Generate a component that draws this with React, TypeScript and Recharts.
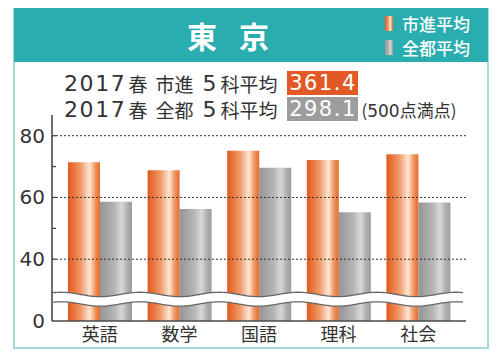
import { BarChart, Bar, XAxis, YAxis, ReferenceLine } from 'recharts';

// 東京 2017春 教科別平均点
const subjects = ['英語', '数学', '国語', '理科', '社会'];
const shishinAvg = [71.4, 68.8, 75.1, 72.1, 74.0];
const zentoAvg = [58.6, 56.3, 69.6, 55.2, 58.4];
const yTicks = [0, 40, 50, 60, 70, 80];
const yLabels = [0, 40, 60, 80];
const gridValues = [40, 60, 80];

// 縦軸は 0〜40 の間を省略（波線）
const BREAK_AT = 40;
const BREAK_GAP = 20;
const toView = (v: number) => (v >= BREAK_AT ? v - BREAK_GAP : v);
const fromView = (v: number) => (v >= BREAK_AT - BREAK_GAP ? v + BREAK_GAP : v);

const data = subjects.map((s, i) => ({
  subject: s,
  shishin: toView(shishinAvg[i]),
  zento: toView(zentoAvg[i]),
}));

// レイアウト
const W = 500;
const H = 360;
const M = { top: 115, right: 34, bottom: 9, left: 0 };
const Y_W = 52;
const X_H = 30;
const Y_MAX = 66.7;
const plotLeft = M.left + Y_W;
const plotRight = W - M.right;
const plotTop = M.top;
const plotBottom = H - M.bottom - X_H;
const yPx = (v: number) => plotBottom - ((plotBottom - plotTop) * v) / Y_MAX;

const CJK = '"Noto Sans CJK JP", sans-serif';
const NUM = '"DejaVu Sans", "Noto Sans CJK JP", sans-serif';
const TEXT = '#333';
const AXIS = '#4a4a4a';

function YTick(props: any) {
  const { x, y, payload } = props;
  const v = fromView(payload.value);
  return (
    <g>
      {v > 0 && <line x1={x + 7} x2={x + 11} y1={y} y2={y} stroke={AXIS} strokeWidth={1.3} />}
      {yLabels.includes(v) && (
        <text x={x} y={y} dy={7} textAnchor="end" fontSize={20} fill={TEXT} fontFamily={NUM}>
          {v}
        </text>
      )}
    </g>
  );
}

// 省略記号の波線（装飾）
function BreakBand() {
  const x = plotLeft + 1;
  const width = plotRight - 2 - x;
  const y = yPx(9.5);
  const height = yPx(4.6) - y;
  const amp = 2.2;
  const period = 79;
  const phase = 8;
  const topC = y + amp + 0.6;
  const botC = y + height - amp - 0.6;
  const pts: number[] = [];
  for (let p = 0; p <= width; p += 2) pts.push(p);
  const w = (p: number) => -amp * Math.cos((2 * Math.PI * (p - phase)) / period);
  const line = (c: number) => pts.map((p, i) => `${i ? 'L' : 'M'}${x + p},${c + w(p)}`).join('');
  const fill =
    line(topC) +
    pts
      .slice()
      .reverse()
      .map((p) => `L${x + p},${botC + w(p)}`)
      .join('') +
    'Z';
  return (
    <svg width={W} height={H} style={{ position: 'absolute', left: 0, top: 0, pointerEvents: 'none' }}>
      <path d={fill} fill="#fff" stroke="none" />
      <path d={line(topC)} fill="none" stroke="#666" strokeWidth={1.3} />
      <path d={line(botC)} fill="none" stroke="#666" strokeWidth={1.3} />
    </svg>
  );
}

const orangeGrad = 'linear-gradient(90deg, #e2581c 0%, #f09a68 40%, #fde6d6 68%, #f0955e 85%, #e56a2a 100%)';
const grayGrad = 'linear-gradient(90deg, #959595 0%, #b5b5b5 45%, #d8d8d8 68%, #b0b0b0 85%, #9c9c9c 100%)';

export default function App() {
  return (
    <div style={{ position: 'absolute', left: 0, top: 0, width: W, height: H, background: '#fff' }}>
      {/* 枠とヘッダー */}
      <div
        style={{
          position: 'absolute',
          left: 13,
          top: 8,
          width: 476,
          height: 341,
          boxSizing: 'border-box',
          border: '2px solid #a6dadb',
        }}
      />
      <div style={{ position: 'absolute', left: 14, top: 8, width: 474, height: 54, background: '#29adae' }} />
      <div
        style={{
          position: 'absolute',
          left: 168,
          top: 15,
          width: 120,
          textAlign: 'center',
          color: '#fff',
          fontFamily: CJK,
          fontWeight: 700,
          fontSize: 30,
          lineHeight: '40px',
          whiteSpace: 'nowrap',
        }}
      >
        東<span style={{ marginLeft: 22 }}>京</span>
      </div>
      {/* 凡例 */}
      <div style={{ position: 'absolute', left: 385, top: 16, width: 8, height: 15, background: orangeGrad }} />
      <div style={{ position: 'absolute', left: 385, top: 40, width: 8, height: 15, background: grayGrad }} />
      <div style={{ position: 'absolute', left: 402, top: 12, color: '#fff', fontFamily: CJK, fontSize: 17, fontWeight: 500, lineHeight: '24px' }}>
        市進平均
      </div>
      <div style={{ position: 'absolute', left: 402, top: 36, color: '#fff', fontFamily: CJK, fontSize: 17, fontWeight: 500, lineHeight: '24px' }}>
        全都平均
      </div>
      {/* 5科平均 */}
      {[
        { who: '市進', score: '361.4', bg: '#e15a26', top: 70 },
        { who: '全都', score: '298.1', bg: '#9d9d9d', top: 96 },
      ].map((r) => (
        <div
          key={r.who}
          style={{ position: 'absolute', left: 64, top: r.top, height: 26, display: 'flex', alignItems: 'center', color: TEXT, whiteSpace: 'nowrap' }}
        >
          <span style={{ fontFamily: NUM, fontSize: 22, letterSpacing: 1.6 }}>2017</span>
          <span style={{ fontFamily: CJK, fontSize: 19, marginLeft: 2 }}>春</span>
          <span style={{ fontFamily: CJK, fontSize: 19, marginLeft: 8 }}>{r.who}</span>
          <span style={{ fontFamily: NUM, fontSize: 22, marginLeft: 9 }}>5</span>
          <span style={{ fontFamily: CJK, fontSize: 19, marginLeft: 4 }}>科平均</span>
          <span
            style={{
              marginLeft: 10,
              background: r.bg,
              color: '#fff',
              fontFamily: NUM,
              fontSize: 21,
              letterSpacing: 1.5,
              lineHeight: '24px',
              width: 71,
              textAlign: 'center',
            }}
          >
            {r.score}
          </span>
          {r.who === '全都' && (
            <span style={{ fontFamily: CJK, fontSize: 17, marginLeft: 3 }}>
              (<span style={{ fontFamily: NUM, fontSize: 17 }}>500</span>点満点)
            </span>
          )}
        </div>
      ))}
      {/* グラフ */}
      <div style={{ position: 'absolute', left: 0, top: 0 }}>
        <BarChart width={W} height={H} data={data} margin={M} barCategoryGap={8} barGap={0}>
          <defs>
            <linearGradient id="gOrange" x1="0" y1="0" x2="1" y2="0">
              <stop offset="0%" stopColor="#e2581c" />
              <stop offset="40%" stopColor="#f09a68" />
              <stop offset="68%" stopColor="#fde6d6" />
              <stop offset="85%" stopColor="#f0955e" />
              <stop offset="100%" stopColor="#e56a2a" />
            </linearGradient>
            <linearGradient id="gGray" x1="0" y1="0" x2="1" y2="0">
              <stop offset="0%" stopColor="#959595" />
              <stop offset="45%" stopColor="#b5b5b5" />
              <stop offset="68%" stopColor="#d8d8d8" />
              <stop offset="85%" stopColor="#b0b0b0" />
              <stop offset="100%" stopColor="#9c9c9c" />
            </linearGradient>
          </defs>
          {gridValues.map((v) => (
            <ReferenceLine key={v} y={toView(v)} stroke="#333" strokeDasharray="2 2" strokeWidth={1} />
          ))}
          <XAxis
            dataKey="subject"
            height={X_H}
            padding={{ left: 8, right: 8 }}
            axisLine={{ stroke: AXIS, strokeWidth: 1.6 }}
            tickLine={false}
            tickSize={0}
            tickMargin={7}
            tick={{ fill: TEXT, fontSize: 18, fontFamily: CJK }}
          />
          <YAxis
            type="number"
            width={Y_W}
            domain={[0, Y_MAX]}
            ticks={yTicks.map(toView)}
            interval={0}
            axisLine={{ stroke: AXIS, strokeWidth: 1.6 }}
            tickLine={false}
            tickSize={0}
            tickMargin={7}
            tick={<YTick />}
          />
          <Bar dataKey="shishin" fill="url(#gOrange)" isAnimationActive={false} />
          <Bar dataKey="zento" fill="url(#gGray)" isAnimationActive={false} />
        </BarChart>
      </div>
      <BreakBand />
    </div>
  );
}
